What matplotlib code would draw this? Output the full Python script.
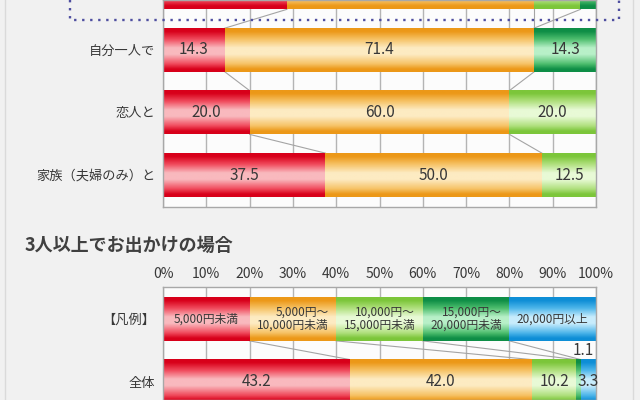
import numpy as np
import matplotlib
matplotlib.use('Agg')
import matplotlib.pyplot as plt
from matplotlib.colors import LinearSegmentedColormap
from matplotlib.lines import Line2D

plt.rcParams['font.family'] = ['Noto Sans CJK JP', 'DejaVu Sans']

# ---- data ----
top_cats = ['', '自分一人で', '恋人と', '家族（夫婦のみ）と']
top_red = [28.6, 14.3, 20.0, 37.5]
top_orange = [57.1, 71.4, 60.0, 50.0]
top_lgreen = [10.7, 0.0, 20.0, 12.5]
top_dgreen = [3.6, 14.3, 0.0, 0.0]
top_blue = [0.0, 0.0, 0.0, 0.0]

bottom_title = '3人以上でお出かけの場合'
bottom_cats = ['【凡例】', '全体']
legend_labels = ['5,000円未満', '5,000円～\n10,000円未満', '10,000円～\n15,000円未満',
                 '15,000円～\n20,000円未満', '20,000円以上']
legend_vals = [20, 20, 20, 20, 20]
total_vals = [43.2, 42.0, 10.2, 1.1, 3.3]

ticks = [0, 10, 20, 30, 40, 50, 60, 70, 80, 90, 100]
tick_labels = ['%d%%' % t for t in ticks]

# gradient colours (edge, mid, light) per price band
band_colors = [
    ('#d8001a', '#f04a5c', '#f9b9be'),  # red
    ('#ec9818', '#f6c265', '#fdebc2'),  # orange
    ('#7cc63a', '#b0e07e', '#e8fad6'),  # light green
    ('#0e8e46', '#4ebe6e', '#b8f0c8'),  # dark green
    ('#0e8ed6', '#4eb6ea', '#c8ecfc'),  # blue
]
TXT = '#383838'
BAR_H = 0.70


def make_cmap(c):
    edge, mid, light = c
    return LinearSegmentedColormap.from_list(
        'g', [(0, edge), (0.07, edge), (0.25, mid), (0.45, light),
              (0.6, light), (0.82, mid), (0.94, edge), (1, edge)])


cmaps = [make_cmap(c) for c in band_colors]
grad = np.linspace(0, 1, 80).reshape(-1, 1)


def draw_bar(ax, y, vals):
    left = 0
    for k, v in enumerate(vals):
        if v > 0:
            ax.imshow(grad, cmap=cmaps[k], aspect='auto', interpolation='bilinear',
                      extent=(left, left + v, y + BAR_H / 2, y - BAR_H / 2), zorder=2)
        left += v


def draw_connectors(ax, rows):
    for i in range(len(rows) - 1):
        cu = np.cumsum(rows[i])
        cl = np.cumsum(rows[i + 1])
        for k in range(len(cu) - 1):
            if rows[i][k] > 0:
                ax.plot([cu[k], cl[k]], [i + BAR_H / 2, i + 1 - BAR_H / 2],
                        color='#a4a4a4', lw=0.8, zorder=1.5)


def style_axes(ax):
    ax.set_facecolor('#fcfcfc')
    ax.set_xlim(0, 100)
    ax.set_xticks(ticks)
    ax.grid(axis='x', color='#b4b4b4', lw=1.0, zorder=0)
    ax.set_axisbelow(True)
    for s in ax.spines.values():
        s.set_color('#a8a8a8')
        s.set_linewidth(1.0)
    ax.tick_params(axis='y', length=0, pad=5.5, labelsize=9.5, labelcolor=TXT)


fig = plt.figure(figsize=(6.4, 4.0), dpi=100)
fig.patch.set_facecolor('#f1f1f1')

# ---- top chart (partially cut off at the top of the screenshot) ----
ax1 = fig.add_axes([163 / 640, 193 / 400, 433 / 640, 207 / 400])
style_axes(ax1)
top_view = (3.512, 0.2)
top_rows = [list(r) for r in zip(top_red, top_orange, top_lgreen, top_dgreen, top_blue)]
for i, r in enumerate(top_rows):
    draw_bar(ax1, i, r)
    if i < top_view[1]:
        continue  # value labels of the cut-off bar are not visible
    left = 0
    for v in r:
        if v > 0:
            ax1.text(left + v / 2, i, '%.1f' % v, ha='center', va='center',
                     fontsize=11, color=TXT, zorder=3)
        left += v
draw_connectors(ax1, top_rows)
ax1.set_yticks(range(len(top_cats)))
ax1.set_yticklabels(top_cats)
ax1.set_ylim(*top_view)
ax1.tick_params(axis='x', length=0, labelbottom=False, labeltop=False)

# ---- bottom chart ----
ax2 = fig.add_axes([163 / 640, 0, 433 / 640, 113 / 400])
style_axes(ax2)
bottom_rows = [legend_vals, total_vals]
for i, r in enumerate(bottom_rows):
    draw_bar(ax2, i, r)
left = 0
for v, lab in zip(legend_vals, legend_labels):
    ax2.text(left + v / 2, 0, lab, ha='center', va='center', multialignment='right',
             fontsize=8.5, color=TXT, zorder=3, linespacing=1.0)
    left += v
left = 0
for v in total_vals:
    if v >= 2:
        ax2.text(left + v / 2, 1, '%.1f' % v, ha='center', va='center',
                 fontsize=11, color=TXT, zorder=3)
    else:
        ax2.text(left + v / 2 + 1, 0.5, '%.1f' % v, ha='center', va='center',
                 fontsize=11, color=TXT, zorder=3)
    left += v
draw_connectors(ax2, bottom_rows)
ax2.set_yticks(range(len(bottom_cats)))
ax2.set_yticklabels(bottom_cats)
ax2.set_ylim(1.296, -0.512)
ax2.xaxis.tick_top()
ax2.set_xticklabels(tick_labels)
ax2.tick_params(axis='x', length=0, pad=4, labelsize=10, labelcolor=TXT)

fig.text(25 / 640, 1 - 245 / 400, bottom_title, fontsize=13, fontweight='bold',
         color='#404040', va='center', ha='left')

# dotted highlight box around the first bar
fig.add_artist(Line2D([70 / 640, 70 / 640, 619 / 640, 619 / 640],
                      [1.0, 1 - 20 / 400, 1 - 20 / 400, 1.0],
                      transform=fig.transFigure, color='#4e4ea0', lw=1.7,
                      ls=(0, (1, 2.4)), zorder=5))
# faint panel borders
for xp in (5 / 640, 633 / 640):
    fig.add_artist(Line2D([xp, xp], [0, 1], transform=fig.transFigure,
                          color='#dadada', lw=1.0))

fig.savefig('out.png', dpi=100, facecolor=fig.get_facecolor())
